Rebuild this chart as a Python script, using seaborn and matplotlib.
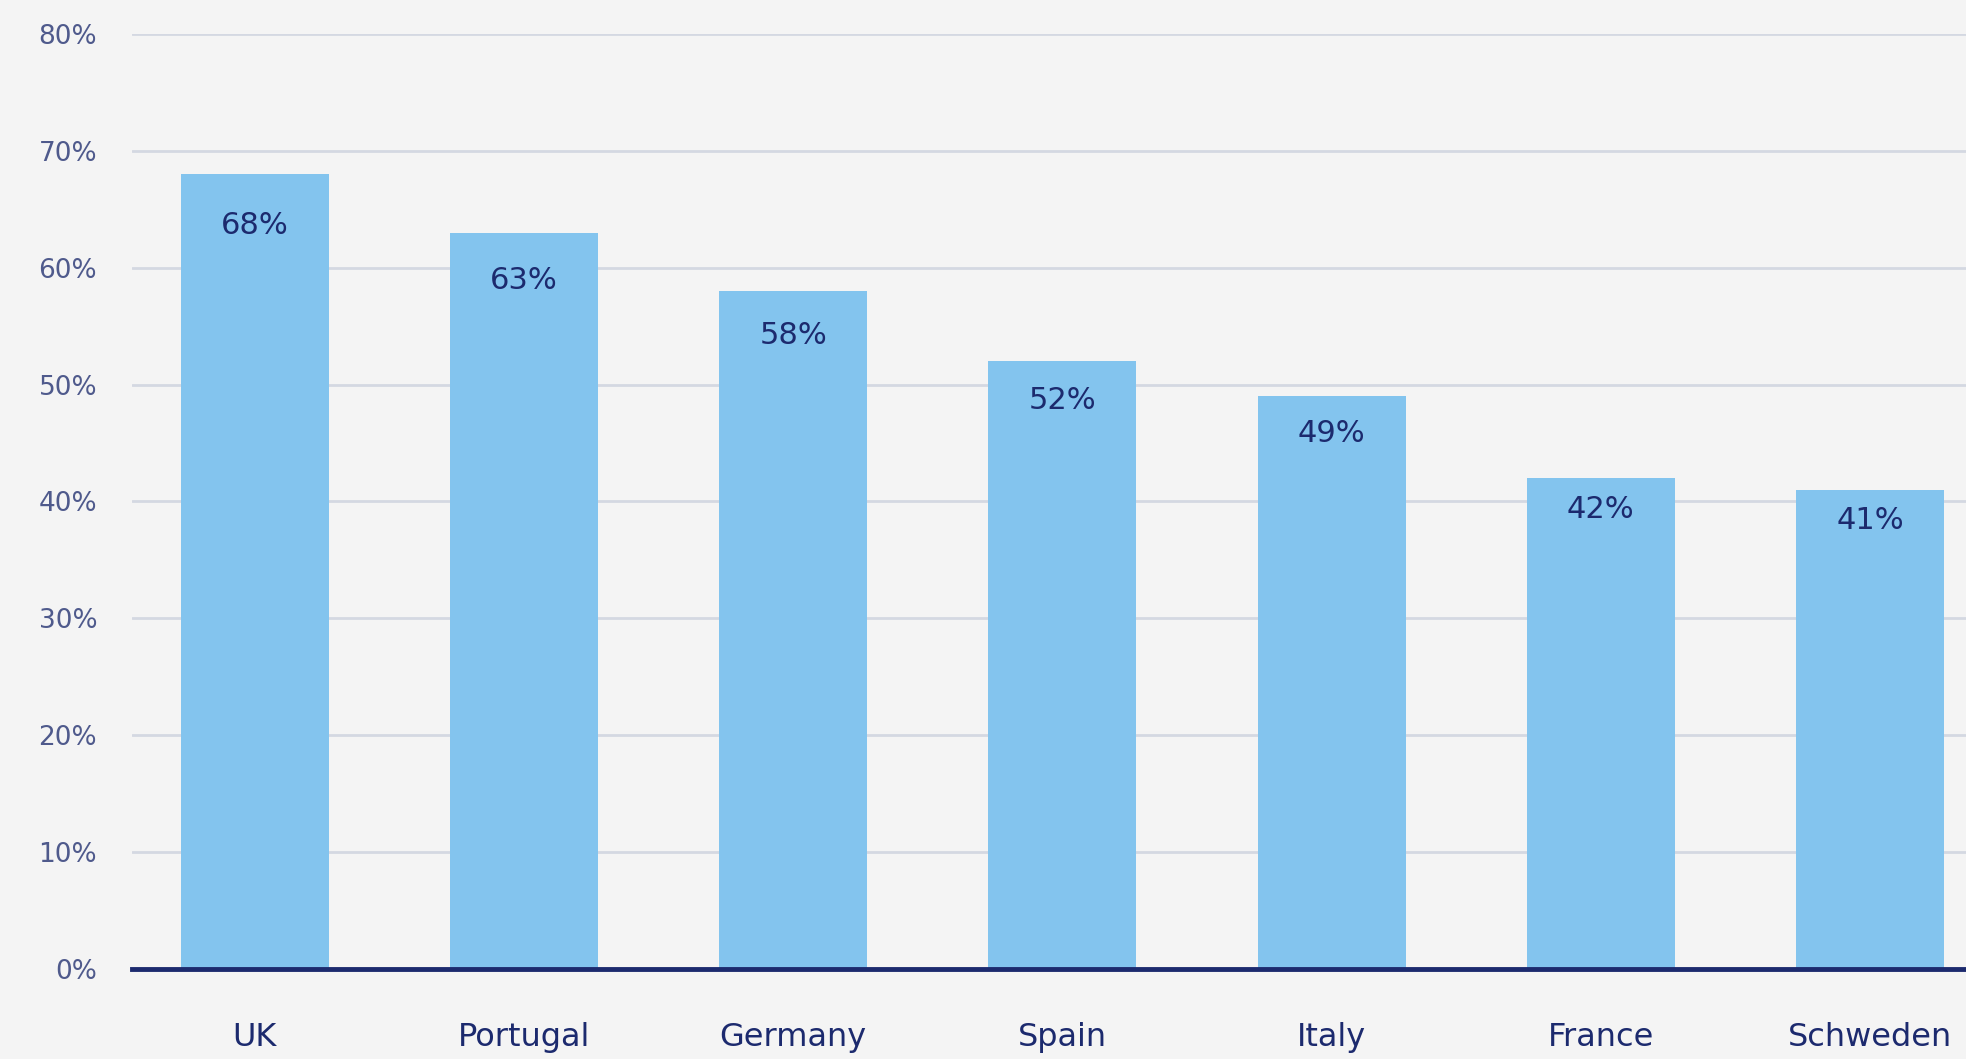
import numpy as np
import pandas as pd
import matplotlib
matplotlib.use("Agg")
import matplotlib.pyplot as plt
import seaborn as sns

# data
countries = ["UK", "Portugal", "Germany", "Spain", "Italy", "France", "Schweden"]
shares = [68, 63, 58, 52, 49, 42, 41]
yticks = [0, 10, 20, 30, 40, 50, 60, 70, 80]

bg = "#f4f4f4"
bar_color = "#83c4ee"
navy = "#1c2a6e"
tick_color = "#4f5a8c"
grid_color = "#d4d8e2"

sns.set_theme(style="white")
plt.rcParams["font.family"] = ["DejaVu Sans"]

df = pd.DataFrame({"country": countries, "share": shares})

fig = plt.figure(figsize=(19.66, 10.59), dpi=100, facecolor=bg)
ax = fig.add_axes([0.0671, 0.085, 0.9329, 0.883])
ax.set_facecolor(bg)

sns.barplot(data=df, x="country", y="share", color=bar_color, width=0.55,
            saturation=1, linewidth=0, ax=ax, zorder=2)

ax.set_ylim(0, 80)
ax.set_xlim(-0.457, 6.357)
ax.set_yticks(yticks)
ax.set_yticklabels([f"{v}%" for v in yticks])
ax.yaxis.grid(True, color=grid_color, linewidth=2, zorder=0)
ax.set_axisbelow(True)

for s in ["top", "right", "left"]:
    ax.spines[s].set_visible(False)
ax.spines["bottom"].set_color(navy)
ax.spines["bottom"].set_linewidth(3.5)
ax.spines["bottom"].set_zorder(3)

ax.tick_params(axis="y", length=0, pad=25, labelsize=19, labelcolor=tick_color)
ax.tick_params(axis="x", length=0, pad=38, labelsize=23, labelcolor=navy)
ax.set_xlabel("")
ax.set_ylabel("")

# labels sit a little below each bar top
for i, v in enumerate(shares):
    ax.text(i, v * 0.935, f"{v}%", ha="center", va="center",
            fontsize=22, color=navy, zorder=4)

fig.savefig("out.png", dpi=100, facecolor=bg)
